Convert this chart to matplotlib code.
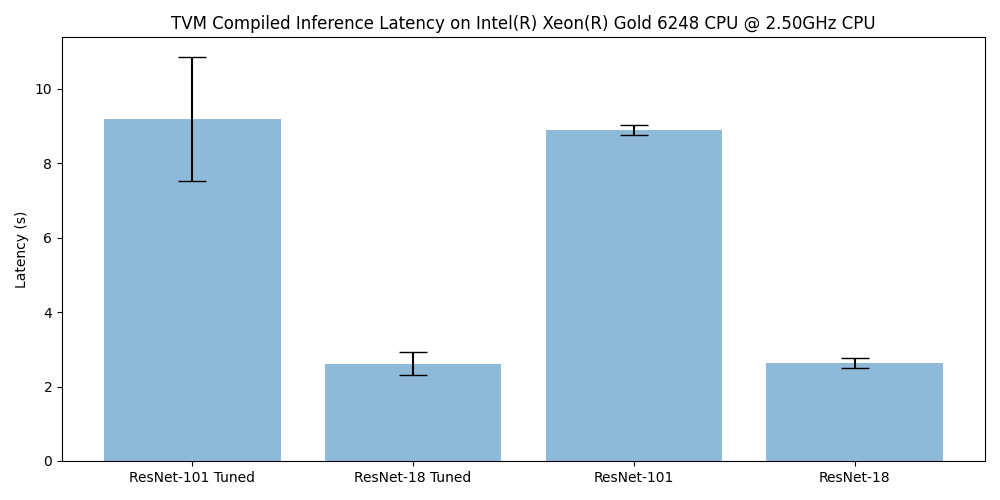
import matplotlib
matplotlib.use("Agg")
import matplotlib.pyplot as plt
import numpy as np

models = ["ResNet-101 Tuned", "ResNet-18 Tuned", "ResNet-101", "ResNet-18"]
means = [9.19, 2.62, 8.90, 2.63]
stds = [1.665, 0.31, 0.125, 0.13]

x = np.arange(len(models))

fig, ax = plt.subplots(figsize=(10, 5), dpi=100)
ax.bar(x, means, yerr=stds, align="center", alpha=0.5, ecolor="black", capsize=10)
ax.set_ylabel("Latency (s)")
ax.set_xticks(x)
ax.set_xticklabels(models)
ax.set_title("TVM Compiled Inference Latency on Intel(R) Xeon(R) Gold 6248 CPU @ 2.50GHz CPU")
plt.subplots_adjust(left=0.062, right=0.985, top=0.926, bottom=0.078)
plt.savefig("out.png")
